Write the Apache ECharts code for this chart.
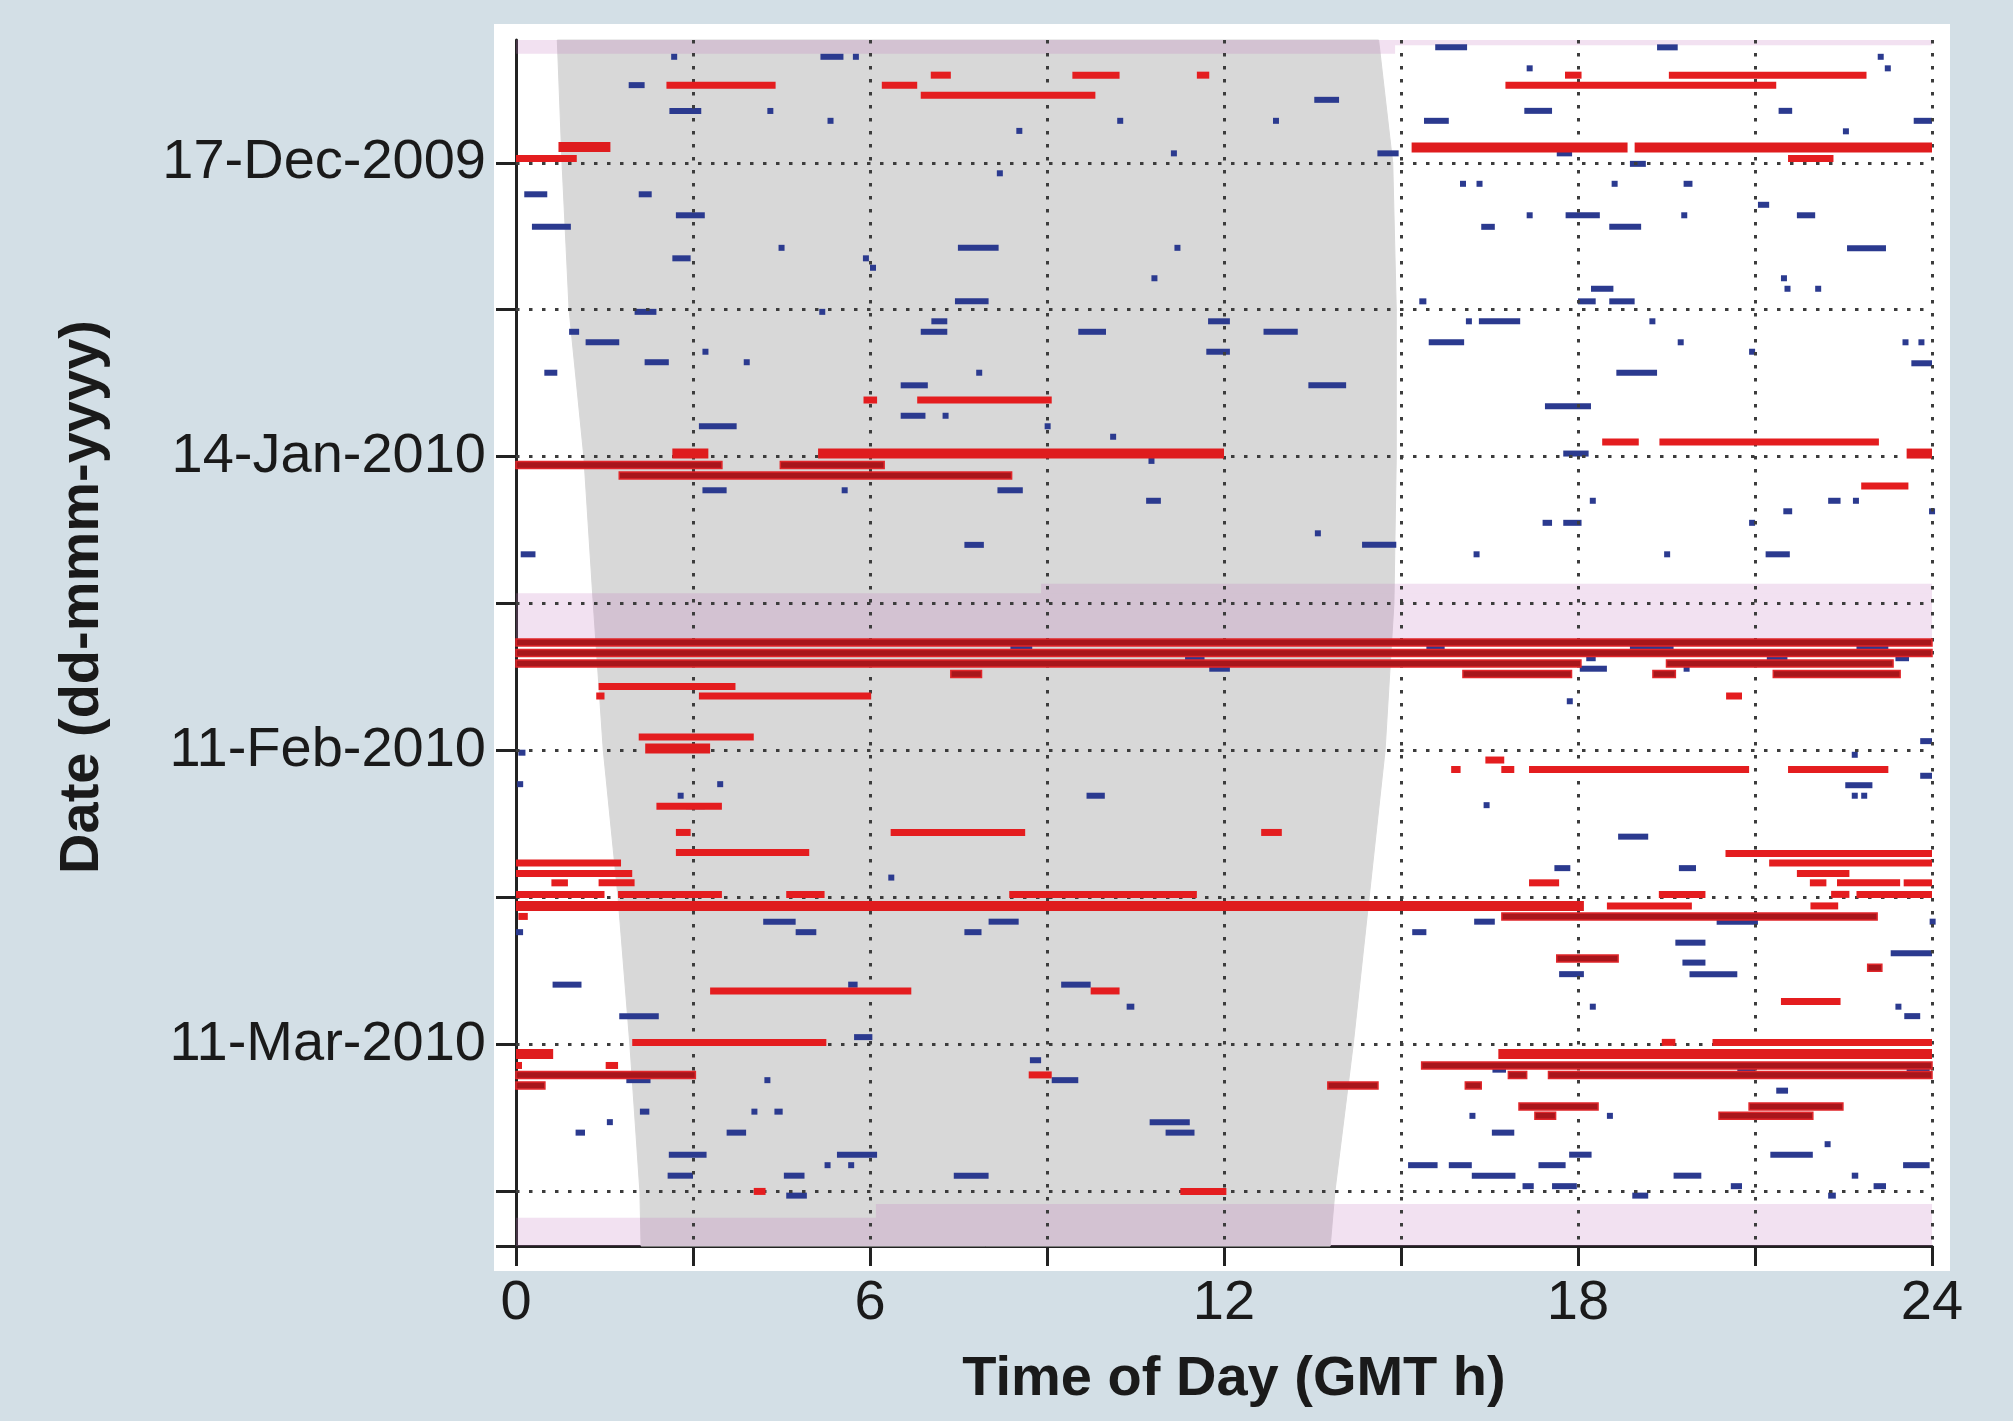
<!DOCTYPE html>
<html>
<head>
<meta charset="utf-8">
<title>Time of Day vs Date</title>
<script src="https://cdn.jsdelivr.net/npm/echarts@6/dist/echarts.min.js"></script>
<style>
  html, body { margin: 0; padding: 0; background: #d3dfe6; }
  #chart { width: 2013px; height: 1421px; }
</style>
</head>
<body>
<div id="chart"></div>
<script>
// y values are days counted from 17-Dec-2009 (0), x values are GMT hours

// axis ticks
const xTickHours = [0, 3, 6, 9, 12, 15, 18, 21, 24];
const yTickDays = [0, 14, 28, 42, 56, 70, 84, 98];
const yLabelDays = [0, 28, 56, 84];
const yLabels = ['17-Dec-2009', '14-Jan-2010', '11-Feb-2010', '11-Mar-2010'];
const dayMin = -11.7;
const dayMax = 103.2;

// grey night region: start / end hour per day
const nightDays  = [-11.7, 0, 14, 28, 42, 56, 70, 84, 98, 103.2];
const nightStart = [0.70, 0.78, 0.90, 1.15, 1.31, 1.48, 1.73, 1.93, 2.10, 2.12];
const nightEnd   = [14.62, 14.86, 14.92, 14.92, 14.88, 14.73, 14.46, 14.19, 13.88, 13.80];

// pink periods: [fromDay, toDay, fromHour, toHour]
const bands = [
  [-11.7, -10.4, 0, 14.9],
  [-11.7, -11.2, 14.9, 24],
  [41.0, 45.5, 0, 24],
  [40.1, 41.0, 8.9, 24],
  [99.2, 103.2, 6.1, 24],
  [100.5, 103.2, 0, 6.1]
];

// [day, startHour, endHour]
const redThick = [
  [-1.5, 0.72, 1.6], [-1.46, 15.18, 18.84], [-1.46, 18.96, 24],
  [27.7, 2.65, 3.26], [27.7, 5.12, 12], [27.7, 23.57, 24],
  [55.8, 2.19, 3.29], [70.8, 0, 18.1], [84.9, 0, 0.63], [84.9, 16.65, 24]
];

const redSegs = [
  [-8.35, 7.03, 7.37], [-8.35, 9.43, 10.23], [-8.35, 11.54, 11.75], [-8.35, 17.78, 18.06], [-8.35, 19.54, 22.89],
  [-7.4, 2.55, 4.40], [-7.4, 6.2, 6.8], [-7.4, 16.77, 21.36],
  [-6.43, 6.86, 9.82],
  [-0.4, 0, 1.03], [-0.4, 21.56, 22.33],
  [22.6, 5.89, 6.12], [22.6, 6.8, 9.08],
  [26.6, 18.41, 19.03], [26.6, 19.38, 23.1],
  [30.8, 22.8, 23.6],
  [49.9, 1.4, 3.72],
  [50.8, 1.36, 1.5], [50.8, 3.1, 6.02], [50.8, 20.51, 20.78],
  [54.7, 2.08, 4.03],
  [56.9, 16.43, 16.75],
  [57.8, 15.85, 16.01], [57.8, 16.7, 16.92], [57.8, 17.17, 20.9], [57.8, 21.56, 23.26],
  [61.3, 2.38, 3.49],
  [63.8, 2.71, 2.96], [63.8, 6.35, 8.63], [63.8, 12.63, 12.98],
  [65.7, 2.71, 4.97], [65.8, 20.5, 24],
  [66.7, 0, 1.78], [66.7, 21.24, 24],
  [67.7, 0, 1.97], [67.7, 21.71, 22.6],
  [68.6, 0.6, 0.88], [68.6, 1.4, 2.01], [68.6, 17.17, 17.68], [68.6, 21.93, 22.21], [68.6, 22.39, 23.46], [68.6, 23.52, 24],
  [69.7, 0, 1.5], [69.7, 1.73, 3.49], [69.7, 4.58, 5.23], [69.7, 8.36, 11.54], [69.7, 19.37, 20.16], [69.7, 22.29, 22.6], [69.7, 22.72, 24],
  [70.8, 18.49, 19.93], [70.8, 21.94, 22.41],
  [71.8, 0.04, 0.2],
  [78.9, 3.29, 6.7], [78.9, 9.74, 10.23],
  [79.9, 21.44, 22.45],
  [83.8, 1.97, 5.26], [83.8, 19.42, 19.65], [83.8, 20.28, 24],
  [86, 0, 0.08], [86, 1.52, 1.73],
  [86.9, 8.69, 9.08],
  [98, 4.03, 4.23], [98, 11.26, 12.04]
];

const darkRedSegs = [
  [28.8, 0, 3.49], [28.8, 4.48, 6.24],
  [29.8, 1.75, 8.4],
  [45.7, 0, 24], [46.7, 0, 24], [47.7, 0, 18.05], [47.7, 19.5, 23.34],
  [48.7, 7.37, 7.89], [48.7, 16.05, 17.89], [48.7, 19.27, 19.65], [48.7, 21.31, 23.46],
  [71.8, 16.71, 23.07],
  [75.8, 17.64, 18.68], [76.7, 22.91, 23.15],
  [86, 15.35, 24],
  [86.9, 0, 3.04], [86.9, 16.82, 17.13], [86.9, 17.5, 24],
  [87.9, 0, 0.49], [87.9, 13.76, 14.61], [87.9, 16.09, 16.36],
  [89.9, 17, 18.34], [89.9, 20.9, 22.49],
  [90.8, 17.27, 17.62], [90.8, 20.39, 21.98]
];

const blueSegs = [
  [-11, 15.58, 16.12], [-11, 19.34, 19.69],
  [-10.1, 2.63, 2.68], [-10.1, 5.16, 5.55], [-10.1, 5.71, 5.76], [-10.1, 23.08, 23.12],
  [-9, 17.13, 17.16], [-9, 23.2, 23.24],
  [-7.4, 1.91, 2.18],
  [-6, 13.53, 13.95],
  [-4.94, 2.6, 3.14], [-4.94, 4.26, 4.29], [-4.95, 17.09, 17.56], [-4.95, 21.4, 21.63],
  [-4, 5.28, 5.31], [-4, 10.19, 10.22], [-4, 12.83, 12.87], [-4, 15.39, 15.81], [-4, 23.69, 24],
  [-3.04, 8.48, 8.51], [-3, 22.49, 22.54],
  [-0.9, 11.1, 11.13], [-0.9, 14.6, 14.96], [-0.9, 17.64, 17.9],
  [0.1, 18.88, 19.15],
  [1, 8.15, 8.18],
  [2, 16, 16.04], [2, 16.28, 16.32], [2, 18.57, 18.6], [2, 19.79, 19.94],
  [3, 0.14, 0.53], [3, 2.08, 2.3],
  [4, 21.05, 21.24],
  [5, 2.71, 3.2], [5, 17.13, 17.16], [5, 17.79, 18.37], [5, 19.75, 19.78], [5, 21.71, 22.02],
  [6.1, 0.27, 0.93], [6.1, 16.36, 16.59], [6.1, 18.53, 19.07],
  [8.1, 4.45, 4.48], [8.1, 7.49, 8.18], [8.1, 11.16, 11.19], [8.15, 22.56, 23.22],
  [9.1, 2.65, 2.96], [9.1, 5.88, 5.91],
  [10, 6, 6.03],
  [11, 10.77, 10.8], [11, 21.44, 21.47],
  [12, 18.22, 18.6], [12, 21.5, 21.6], [12, 22.02, 22.05],
  [13.2, 7.44, 8.01], [13.2, 15.31, 15.43], [13.2, 18, 18.3], [13.2, 18.53, 18.96],
  [14.2, 2.01, 2.38], [14.2, 5.14, 5.17],
  [15.1, 7.04, 7.31], [15.1, 11.73, 12.1], [15.1, 16.1, 16.13], [15.1, 16.32, 17.02], [15.1, 19.21, 19.24],
  [16.1, 0.9, 1.07], [16.1, 6.86, 7.31], [16.1, 9.53, 10], [16.1, 12.67, 13.25],
  [17.1, 1.18, 1.75], [17.1, 15.47, 16.07], [17.1, 19.69, 19.72], [17.1, 23.5, 23.53], [17.1, 23.77, 23.8],
  [18, 3.16, 3.19], [18, 11.7, 12.1], [18, 20.9, 20.93],
  [19, 2.18, 2.59], [19, 3.86, 3.89], [19.1, 23.65, 24],
  [20, 0.48, 0.7], [20, 7.8, 7.83], [20, 18.65, 19.34],
  [21.2, 6.52, 6.98], [21.2, 13.43, 14.07],
  [23.2, 17.44, 18.22],
  [24.1, 6.52, 6.94], [24.1, 7.23, 7.26],
  [25.1, 3.1, 3.74], [25.1, 8.96, 8.99],
  [26.1, 10.07, 10.1],
  [27.7, 17.75, 18.18],
  [28.4, 10.72, 10.75],
  [31.2, 3.16, 3.57], [31.2, 5.52, 5.55], [31.2, 8.16, 8.59],
  [32.2, 10.68, 10.93], [32.2, 18.2, 18.23], [32.2, 22.24, 22.45], [32.2, 22.66, 22.69],
  [33.2, 21.48, 21.63], [33.2, 23.95, 24],
  [34.3, 17.4, 17.56], [34.3, 17.75, 18.06], [34.3, 20.9, 20.93],
  [35.3, 13.54, 13.57],
  [36.4, 7.6, 7.93], [36.4, 14.34, 14.92],
  [37.3, 0.08, 0.33], [37.3, 16.23, 16.26], [37.3, 19.46, 19.49], [37.3, 21.18, 21.59],
  [46.3, 8.38, 8.75], [46.3, 15.43, 15.74], [46.3, 18.88, 19.62], [46.3, 22.72, 23.26],
  [47.2, 11.34, 11.67], [47.2, 18.14, 18.3], [47.2, 21.2, 21.55], [47.2, 23.38, 23.61],
  [48.2, 11.75, 12.1], [48.2, 18.03, 18.49], [48.2, 19.79, 19.82],
  [51.3, 17.81, 17.84],
  [55.1, 23.8, 24],
  [56.2, 0.04, 0.16], [56.4, 22.64, 22.67],
  [58.4, 23.8, 24],
  [59.2, 0.02, 0.05], [59.2, 3.41, 3.44], [59.3, 22.53, 22.99],
  [60.3, 2.74, 2.77], [60.3, 9.67, 9.98], [60.3, 22.64, 22.67], [60.3, 22.8, 22.83],
  [61.2, 16.4, 16.43], [61.3, 2.88, 3.2],
  [64.2, 18.68, 19.19],
  [67.2, 17.6, 17.87], [67.2, 19.71, 20],
  [68.1, 6.31, 6.34],
  [72.3, 4.19, 4.74], [72.3, 8.01, 8.52], [72.3, 16.24, 16.59], [72.3, 20.35, 21.05], [72.3, 23.96, 24],
  [73.3, 0, 0.12], [73.3, 4.74, 5.09], [73.3, 7.6, 7.89], [73.3, 15.19, 15.43],
  [74.3, 19.65, 20.16],
  [75.3, 23.3, 24],
  [76.2, 19.77, 20.16],
  [77.3, 17.68, 18.1], [77.3, 19.89, 20.7],
  [78.3, 0.62, 1.11], [78.3, 5.63, 5.79], [78.3, 9.24, 9.74],
  [79.9, 21.9, 22.18],
  [80.4, 10.35, 10.48], [80.4, 18.2, 18.23], [80.4, 23.38, 23.41],
  [81.3, 1.75, 2.42], [81.3, 23.53, 23.8],
  [83.3, 5.73, 6.04],
  [85.5, 8.71, 8.9],
  [86.4, 16.55, 16.78], [86.4, 20.7, 21.01], [86.4, 23.57, 23.96],
  [87.4, 1.87, 2.28], [87.4, 4.21, 4.24], [87.4, 9.08, 9.53],
  [88.4, 21.36, 21.56],
  [90.4, 2.1, 2.26], [90.4, 3.99, 4.02], [90.4, 4.38, 4.52],
  [90.8, 16.16, 16.19], [90.8, 18.49, 18.52],
  [91.4, 1.54, 1.57], [91.4, 10.74, 11.42],
  [92.4, 1.01, 1.17], [92.4, 3.57, 3.9], [92.4, 11.01, 11.5], [92.4, 16.54, 16.92],
  [93.5, 22.18, 22.21],
  [94.5, 2.59, 3.23], [94.5, 5.44, 6.12], [94.5, 17.85, 18.23], [94.5, 21.26, 21.98],
  [95.5, 5.23, 5.26], [95.5, 5.63, 5.66], [95.5, 15.12, 15.62], [95.5, 15.81, 16.2], [95.5, 17.33, 17.79], [95.5, 23.51, 23.96],
  [96.5, 2.57, 3], [96.5, 4.54, 4.89], [96.5, 7.42, 8.01], [96.5, 16.2, 16.94], [96.5, 19.62, 20.09], [96.5, 22.64, 22.75],
  [97.5, 17.06, 17.25], [97.5, 17.56, 17.98], [97.5, 20.59, 20.78], [97.5, 23.01, 23.22],
  [98.4, 4.58, 4.93], [98.4, 18.92, 19.19], [98.4, 22.24, 22.37]
];

const FONT = '"Liberation Sans", Arial, Helvetica, sans-serif';

// horizontal bar from start to end hour at one day
function segmentRenderer(thickness, fill, stroke) {
  return function (params, api) {
    const a = api.coord([api.value(1), api.value(0)]);
    const b = api.coord([api.value(2), api.value(0)]);
    const w = Math.max(b[0] - a[0], 6);
    return {
      type: 'rect',
      shape: { x: a[0], y: a[1] - thickness / 2, width: w, height: thickness },
      style: stroke ? { fill: fill, stroke: stroke, lineWidth: 1.5 } : { fill: fill }
    };
  };
}

function nightRenderer(params, api) {
  const i = params.dataIndex;
  if (i >= nightDays.length - 1) return;
  const pts = [
    api.coord([nightStart[i], nightDays[i]]),
    api.coord([nightEnd[i], nightDays[i]]),
    api.coord([nightEnd[i + 1], nightDays[i + 1]]),
    api.coord([nightStart[i + 1], nightDays[i + 1]])
  ];
  return {
    type: 'polygon',
    shape: { points: pts },
    style: { fill: '#d8d8d8', stroke: '#d8d8d8', lineWidth: 1 }
  };
}

function bandRenderer(params, api) {
  const p0 = api.coord([api.value(2), api.value(0)]);
  const p1 = api.coord([api.value(3), api.value(1)]);
  return {
    type: 'rect',
    shape: { x: p0[0], y: Math.min(p0[1], p1[1]), width: p1[0] - p0[0], height: Math.abs(p1[1] - p0[1]) },
    style: { fill: 'rgba(195, 120, 190, 0.22)' }
  };
}

const gridDots = { color: '#3c3c3c', width: 3, type: [3.5, 9.5] };

const option = {
  backgroundColor: '#d3dfe6',
  animation: false,
  graphic: [
    {
      type: 'rect', z: -10,
      shape: { x: 494, y: 24, width: 1456, height: 1247 },
      style: { fill: '#ffffff' }
    },
    {
      type: 'text', x: 1234, y: 1380,
      style: { text: 'Time of Day (GMT h)', font: 'bold 56px ' + FONT, fill: '#1a1a1a', align: 'center', verticalAlign: 'middle' }
    },
    {
      type: 'text', x: 83, y: 597, rotation: Math.PI / 2,
      style: { text: 'Date (dd-mmm-yyyy)', font: 'bold 56px ' + FONT, fill: '#1a1a1a', align: 'center', verticalAlign: 'middle' }
    }
  ],
  grid: { left: 516, top: 40, width: 1416, height: 1206 },
  xAxis: {
    type: 'value',
    min: 0,
    max: 24,
    interval: 3,
    axisLine: { show: true, onZero: false, lineStyle: { color: '#222', width: 3 } },
    axisTick: { show: true, length: 20, lineStyle: { color: '#222', width: 3 } },
    axisLabel: {
      fontSize: 56,
      fontFamily: FONT,
      color: '#1a1a1a',
      margin: 30,
      formatter: function (v) { return v % 6 === 0 ? String(v) : ''; }
    },
    splitLine: { show: false }
  },
  yAxis: {
    type: 'value',
    inverse: true,
    min: dayMin,
    max: dayMax,
    axisLine: { show: true, onZero: false, lineStyle: { color: '#222', width: 3 } },
    axisTick: { show: true, length: 20, customValues: yTickDays.concat([dayMax]), lineStyle: { color: '#222', width: 3 } },
    axisLabel: {
      customValues: yLabelDays,
      fontSize: 56,
      fontFamily: FONT,
      color: '#1a1a1a',
      margin: 30,
      formatter: function (v) {
        const i = yLabelDays.indexOf(v);
        return i >= 0 ? yLabels[i] : '';
      }
    },
    splitLine: { show: false }
  },
  series: [
    {
      type: 'custom',
      name: 'night',
      z: 1,
      silent: true,
      renderItem: nightRenderer,
      encode: { x: [1, 2], y: 0 },
      data: nightDays.map(function (d, i) { return [d, nightStart[i], nightEnd[i]]; })
    },
    {
      type: 'custom',
      name: 'periods',
      z: 2,
      silent: true,
      renderItem: bandRenderer,
      encode: { x: [2, 3], y: [0, 1] },
      data: bands,
      markLine: {
        silent: true,
        symbol: 'none',
        label: { show: false },
        lineStyle: gridDots,
        data: xTickHours.filter(function (h) { return h > 0; }).map(function (h) { return { xAxis: h }; })
          .concat(yTickDays.map(function (d) { return { yAxis: d }; }))
      }
    },
    {
      type: 'custom',
      name: 'blue',
      z: 4,
      renderItem: segmentRenderer(6, '#2b3a8f'),
      encode: { x: [1, 2], y: 0 },
      data: blueSegs
    },
    {
      type: 'custom',
      name: 'dark red',
      z: 5,
      renderItem: segmentRenderer(7, '#a8161b', '#e0262a'),
      encode: { x: [1, 2], y: 0 },
      data: darkRedSegs
    },
    {
      type: 'custom',
      name: 'red',
      z: 6,
      renderItem: segmentRenderer(7, '#e41d1f'),
      encode: { x: [1, 2], y: 0 },
      data: redSegs
    },
    {
      type: 'custom',
      name: 'red thick',
      z: 7,
      renderItem: segmentRenderer(10, '#df1c1e'),
      encode: { x: [1, 2], y: 0 },
      data: redThick
    }
  ]
};

const chart = echarts.init(document.getElementById('chart'));
chart.setOption(option);
</script>
</body>
</html>
